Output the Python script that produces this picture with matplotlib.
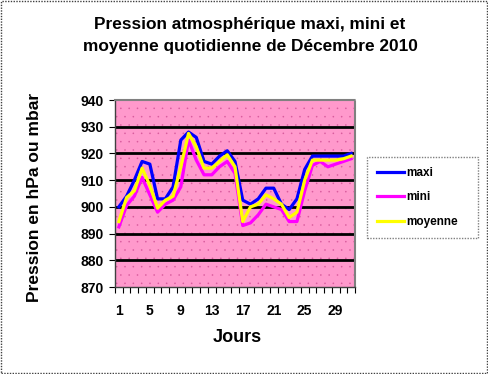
import matplotlib
matplotlib.use("Agg")
import matplotlib.pyplot as plt
from matplotlib.patches import Rectangle
import numpy as np

days = list(range(1, 32))
maxi = [900, 904, 910, 917, 916, 903, 903, 907.5, 925, 928, 926, 917, 916, 919, 921,
        917, 902.5, 901, 903, 907, 907, 901, 899, 903, 914, 919, 919, 919, 919, 919, 920]
mini = [892.5, 900.5, 904, 911, 904.5, 898, 901, 902.5, 907.5, 925, 917.5, 912, 912, 915, 917,
        912.5, 893, 894, 897, 901, 900, 899, 894.5, 894.5, 906, 915.5, 917, 915, 916, 917, 918]
moyenne = [894.5, 903.5, 906, 914.5, 908, 899.5, 902.5, 904, 915, 927.5, 922.5, 914.5, 914.5, 917, 919.5,
           915, 894.5, 900, 901, 904.5, 903, 901, 896, 898, 910, 917.5, 917.5, 917.5, 917.5, 918, 919]
yticks = [870, 880, 890, 900, 910, 920, 930, 940]
xtick_days = [1, 5, 9, 13, 17, 21, 25, 29]

plt.rcParams['font.family'] = ['Liberation Sans', 'DejaVu Sans']
plt.rcParams['hatch.linewidth'] = 0.0

fig = plt.figure(figsize=(4.88, 3.74), dpi=100)
ax = fig.add_axes([115/488, 87/374, 240/488, 187/374])

ax.set_facecolor('#FF99CC')
bg = Rectangle((0, 0), 1, 1, transform=ax.transAxes, facecolor='none',
               edgecolor='#D95C9E', hatch='..', linewidth=0, zorder=0.5)
ax.add_patch(bg)

for v in yticks[1:-1]:
    ax.axhline(v, color='black', linewidth=2.0, zorder=1)

ax.plot(days, maxi, color='#0000FF', linewidth=2.3, label='maxi', zorder=3)
ax.plot(days, mini, color='#FF00FF', linewidth=2.3, label='mini', zorder=4)
ax.plot(days, moyenne, color='#FFFF00', linewidth=2.3, label='moyenne', zorder=5)

ax.set_xlim(0.5, 31.5)
ax.set_ylim(870, 940)
ax.set_yticks(yticks)
ax.set_yticklabels([str(v) for v in yticks], fontsize=10, fontweight='bold')
ax.set_xticks(xtick_days)
ax.set_xticklabels([str(d) for d in xtick_days], fontsize=10, fontweight='bold')
ax.set_xticks(np.arange(0.5, 32, 1), minor=True)
ax.tick_params(axis='x', which='major', length=0, pad=12)
ax.tick_params(axis='x', which='minor', length=4, width=0.8, direction='out')
ax.tick_params(axis='y', which='major', length=4, width=0.8, direction='out', pad=4)

for s in ['top', 'right']:
    ax.spines[s].set_color('#808080')
    ax.spines[s].set_linestyle((0, (1, 1)))
    ax.spines[s].set_linewidth(1.5)
for s in ['left', 'bottom']:
    ax.spines[s].set_color('#404040')
    ax.spines[s].set_linewidth(1.0)

ax.set_xlabel('Jours', fontsize=13, fontweight='bold')
ax.xaxis.set_label_coords((237 - 115) / 240, -(338 - 287) / 187)
ax.xaxis.label.set_va('center')
ax.set_ylabel('Pression en hPa ou mbar', fontsize=12.5, fontweight='bold')
ax.yaxis.set_label_coords(-(115 - 35) / 240, (287 - 197) / 187)
ax.yaxis.label.set_va('center')

fig.text(250/488, 1 - 25/374, 'Pression atmosphérique maxi, mini et',
         fontsize=12.4, fontweight='bold', ha='center', va='center')
fig.text(250/488, 1 - 47/374, 'moyenne quotidienne de Décembre 2010',
         fontsize=12.4, fontweight='bold', ha='center', va='center')

leg = ax.legend(loc='upper left', bbox_to_anchor=(367/488, 1 - 231/374, 111/488, 74/374),
                bbox_transform=fig.transFigure, mode='expand', frameon=True, fancybox=False,
                prop={'size': 8.5, 'weight': 'bold'}, handlelength=2.3, handletextpad=0.2,
                labelspacing=1.05, borderaxespad=0, borderpad=0.85)
leg.get_frame().set_edgecolor('#606060')
leg.get_frame().set_linestyle((0, (1, 1)))
leg.get_frame().set_linewidth(1.0)

fig.patches.append(Rectangle((0.003, 0.004), 0.994, 0.992, transform=fig.transFigure,
                             fill=False, edgecolor='#404040', linestyle=(0, (1, 1)), linewidth=1.0))

fig.savefig('out.png', dpi=100)
